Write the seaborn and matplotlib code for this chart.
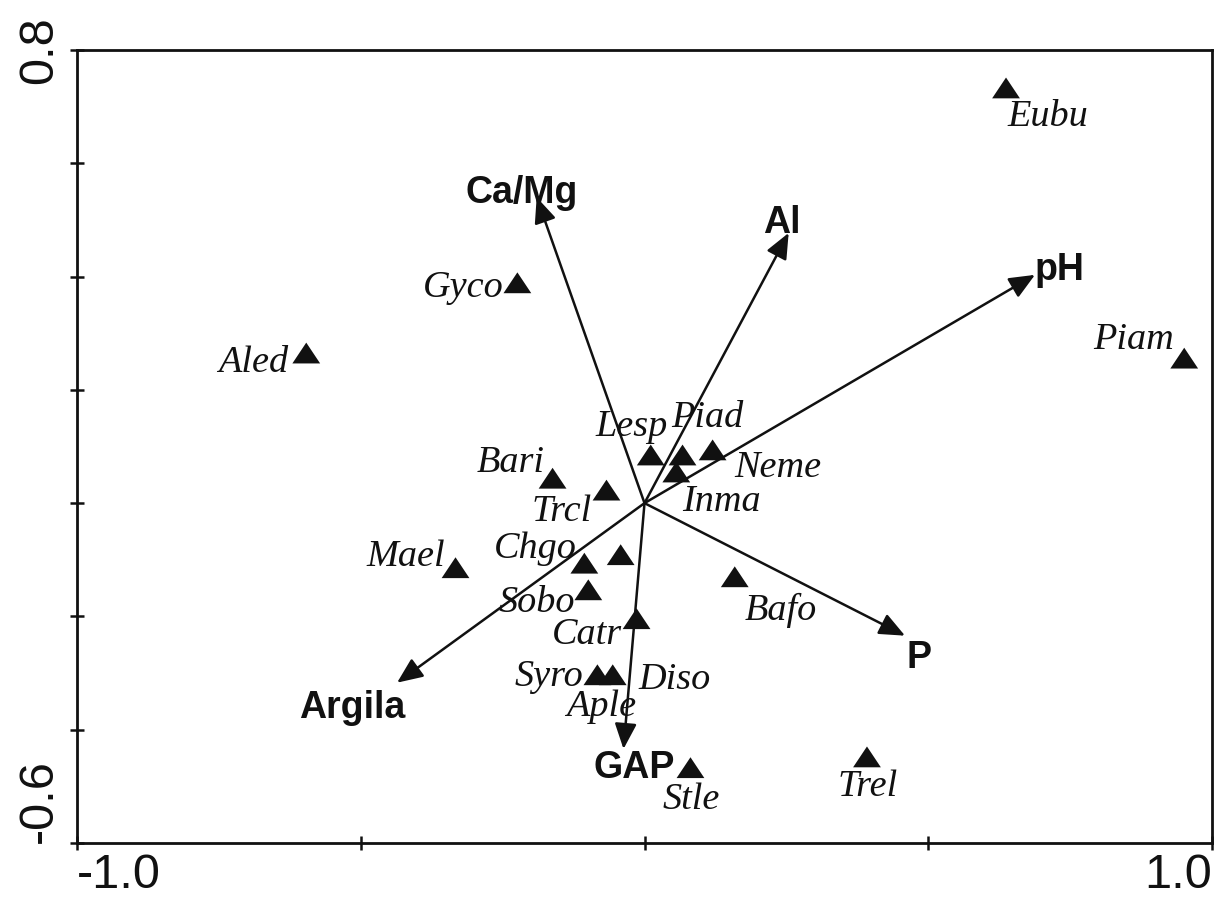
import numpy as np
import pandas as pd
import matplotlib
matplotlib.use("Agg")
import matplotlib.pyplot as plt
import seaborn as sns

# species scores (triangles)
species = ["Eubu", "Piam", "Gyco", "Aled", "Mael", "Bafo", "Trel", "Stle",
           "Syro", "Aple", "Diso", "Catr", "Sobo", "Chgo", "Trcl", "Bari",
           "Lesp", "Piad", "Neme", "Inma"]
sp_x = [0.637, 0.951, -0.224, -0.596, -0.333, 0.159, 0.392, 0.081,
        -0.083, -0.056, -0.042, -0.014, -0.099, -0.106, -0.067, -0.162,
        0.011, 0.067, 0.120, 0.056]
sp_y = [0.733, 0.256, 0.389, 0.265, -0.114, -0.130, -0.448, -0.467,
        -0.303, -0.303, -0.091, -0.204, -0.153, -0.106, 0.023, 0.044,
        0.085, 0.085, 0.094, 0.055]
# where each species name is written
lab_x = [0.711, 0.862, -0.319, -0.690, -0.420, 0.240, 0.393, 0.083,
         -0.169, -0.076, 0.053, -0.101, -0.190, -0.192, -0.146, -0.236,
         -0.023, 0.111, 0.235, 0.136]
lab_y = [0.683, 0.288, 0.380, 0.247, -0.095, -0.189, -0.501, -0.524,
         -0.307, -0.360, -0.312, -0.233, -0.176, -0.080, -0.015, 0.071,
         0.135, 0.150, 0.062, 0.002]

# environmental vectors
env = ["Ca/Mg", "Al", "pH", "P", "Argila", "GAP"]
env_x = [-0.190, 0.254, 0.688, 0.459, -0.436, -0.037]
env_y = [0.540, 0.477, 0.403, -0.234, -0.317, -0.434]
env_lx = [-0.217, 0.242, 0.732, 0.483, -0.515, -0.019]
env_ly = [0.530, 0.477, 0.394, -0.291, -0.379, -0.485]

df = pd.DataFrame({"species": species, "x": sp_x, "y": sp_y})

sns.set_style("ticks")
plt.rcParams["font.family"] = ["Liberation Sans", "DejaVu Sans"]

fig = plt.figure(figsize=(12.18, 8.99), dpi=100)
ax = fig.add_axes([0.0632, 0.0623, 0.9319, 0.8821])

for i in range(len(env)):
    ax.annotate("", xy=(env_x[i], env_y[i]), xytext=(0, 0),
                arrowprops=dict(arrowstyle="-|>,head_length=0.65,head_width=0.28",
                                mutation_scale=24, lw=1.8, color="#111111",
                                shrinkA=0, shrinkB=0))
    ax.text(env_lx[i], env_ly[i], env[i], fontsize=27, fontweight="bold",
            ha="center", va="baseline", color="#111111")

tri = [(0, 0.75), (-1, -0.75), (1, -0.75)]
sns.scatterplot(data=df, x="x", y="y", marker=tri, s=400, color="#111111",
                edgecolor="none", ax=ax, zorder=3)

for i in range(len(species)):
    ax.text(lab_x[i], lab_y[i], species[i], fontsize=27.5, style="italic",
            family="Liberation Serif", ha="center", va="center",
            color="#111111")

ax.set_xlim(-1.0, 1.0)
ax.set_ylim(-0.6, 0.8)
ax.set_xticks([-1.0, -0.5, 0.0, 0.5, 1.0])
ax.set_xticklabels(["-1.0", "", "", "", "1.0"])
ax.set_yticks([-0.6, -0.4, -0.2, 0.0, 0.2, 0.4, 0.6, 0.8])
ax.set_yticklabels(["-0.6", "", "", "", "", "", "", "0.8"], rotation=90)
ax.set_xlabel("")
ax.set_ylabel("")
ax.tick_params(direction="inout", length=10, width=1.8, color="#111111",
               labelsize=35, labelcolor="#111111")
ax.tick_params(axis="x", pad=2)
ax.tick_params(axis="y", pad=6)

xl = ax.get_xticklabels()
xl[0].set_ha("left")
xl[-1].set_ha("right")
yl = ax.get_yticklabels()
yl[0].set_va("bottom")
yl[-1].set_va("center")

for s in ax.spines.values():
    s.set_visible(True)
    s.set_linewidth(2)
    s.set_color("#111111")

fig.savefig("out.png", dpi=100)
